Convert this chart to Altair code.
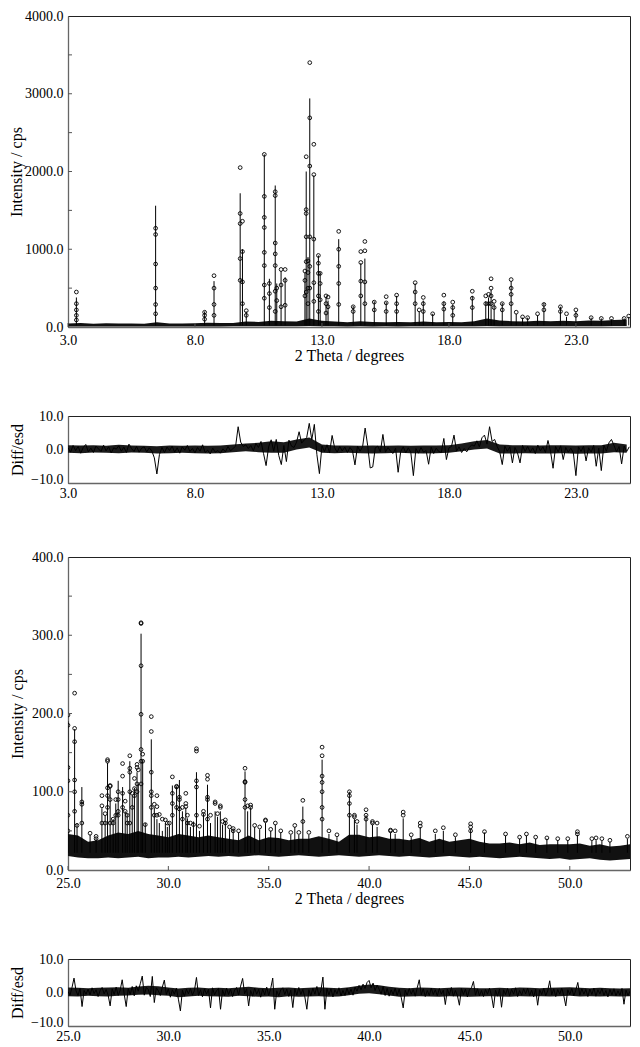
import altair as alt
import pandas as pd

FONT = "Liberation Serif"

# ---------------- Panel 1: 3 - 25 deg ----------------
p1_xdomain = [3.0, 25.13]
p1_xticks = [3.0, 8.0, 13.0, 18.0, 23.0]
p1_yticks = [0, 1000, 2000, 3000, 4000]
p1_yminor = [500, 1000, 1500, 2000, 2500, 3000, 3500]
p1_base = 20

p1_peak_x = [3.33, 6.45, 8.38, 8.75, 9.78, 9.87, 10.02, 10.73, 10.93, 11.16, 11.22,
             11.39, 11.55, 12.33, 12.38, 12.45, 12.52, 12.68, 12.86, 12.93, 13.16,
             13.24, 13.66, 14.23, 14.53, 14.69, 15.06, 15.53, 15.94, 16.67, 16.83,
             16.99, 17.36, 17.80, 18.15, 18.92, 19.45, 19.56, 19.66, 19.78, 20.10,
             20.45, 20.65, 20.90, 21.10, 21.49, 21.74, 22.39, 22.63, 23.00, 23.60,
             24.00, 24.40, 24.90, 25.08]
p1_peak_calc = [380, 1560, 200, 590, 1720, 1000, 200, 2220, 620, 1820, 560,
                720, 640, 700, 2000, 900, 2940, 1950, 920, 700, 380,
                340, 1130, 270, 820, 880, 330, 320, 400, 560, 200,
                340, 170, 330, 290, 400, 330, 380, 480, 300, 310,
                590, 170, 120, 120, 150, 310, 260, 130, 200, 120,
                110, 100, 110, 130]
p1_peak_obs = [[450, 300, 220, 150, 90], [1270, 1190, 810, 500, 290, 170],
               [190, 150, 100], [660, 500, 290, 150], [2050, 1460, 1330, 880, 600],
               [1360, 970, 580, 300], [210, 150],
               [2220, 1680, 1410, 1280, 960, 790, 540, 370], [560, 430, 250],
               [1740, 1690, 1080, 940, 790, 460, 200], [500, 340], [740, 540, 260],
               [740, 600, 280], [720, 600, 400], [2190, 1510, 1460, 1160, 840, 450],
               [850, 700, 500, 300], [3400, 2690, 2070, 1160, 780, 500],
               [2350, 1960, 1130, 570, 330], [920, 820, 690, 400, 200], [690, 560, 350],
               [400, 300, 180], [385, 260], [1230, 1000, 780, 560, 290], [260, 200],
               [970, 830, 590, 400], [1100, 980, 580, 300], [320, 220], [390, 310, 200],
               [410, 300, 200], [570, 450, 300], [220], [380, 300, 200], [170],
               [410, 300, 230], [320, 250, 150], [460, 370, 250], [400, 300], [420, 300],
               [620, 500, 400, 300], [330, 250], [300, 220], [610, 500, 420, 300],
               [190], [130], [120], [170], [290, 220], [260, 200], [170], [220, 150],
               [120], [110], [110], [110], [140]]
p1_band_x0, p1_band_step = 3.0, 0.5
p1_band_hi = [45, 50, 42, 48, 44, 46, 42, 60, 45, 44, 48, 55, 50, 52, 70, 65, 80, 75,
              70, 110, 80, 70, 60, 75, 65, 60, 65, 60, 70, 60, 65, 60, 75, 110, 85, 75,
              70, 80, 75, 80, 75, 85, 80, 90, 95]
p1_band_lo = [8, 6, 8, 7, 6, 8, 7, 8, 6, 7, 8, 7, 8, 9, 10, 9, 10, 10,
              10, 12, 10, 9, 8, 9, 8, 9, 8, 9, 10, 9, 10, 9, 10, 12, 11, 10,
              10, 11, 10, 11, 10, 11, 10, 12, 12]

# ---------------- Panel 2: difference 3 - 25 deg (step 0.1) ----------------
p2_x0, p2_step = 3.0, 0.1
p2_diff = [
    0.5, -0.8, 1.2, -0.3, 0.9, -1.1, 0.6, 1.5, -0.7, 0.4,
    -0.9, 1.0, 0.2, -0.6, 1.3, -0.4, 0.8, -1.0, 0.5, 0.1,
    1.1, -0.5, 0.7, -0.9, 1.6, 0.3, -0.6, 0.9, -0.8, 0.4,
    0.8, -0.7, 0.5, -0.4, -2.5, -7.3, -1.5, 0.6, -0.9, 0.7,
    -0.3, 1.0, -0.8, 0.5, -1.1, 0.8, -0.2, 1.2, -0.6, 0.3,
    -1.0, 0.6, -0.5, 1.4, -0.9, -0.2, -1.3, 0.4, -0.8, -0.3,
    -1.1, 0.2, -0.7, 0.9, -0.4, 0.3, 1.0, 6.8, 2.2, 0.9,
    1.4, 0.3, 1.2, -0.4, 1.8, 0.6, 2.4, -1.2, -4.8, 0.8,
    2.9, -0.5, 3.0, -1.8, -4.5, 1.2, -3.6, 2.8, 1.0, 0.6,
    2.2, 5.3, 1.9, 2.8, 3.6, 7.8, 2.9, 7.5, -1.5, -7.2,
    1.1, -0.6, 1.4, -1.0, 4.2, 0.5, -0.8, 0.9, -0.4, 0.7,
    -0.9, 0.6, -0.3, -4.6, 1.0, -0.5, 0.8, 6.4, 1.2, -5.5,
    -5.2, 0.5, 1.0, -0.7, 4.5, -0.8, 0.6, -0.5, -1.2, 0.4,
    -6.8, -0.6, 0.8, -1.0, 0.5, -0.9, -7.8, 0.3, -1.1, 0.6,
    -0.8, -0.3, -4.4, 0.7, -1.2, 0.4, -0.6, -0.9, 3.3, -3.0,
    0.5, 0.9, 4.3, -0.5, 0.8, -0.9, 0.3, -0.7, 0.6, 1.4,
    1.0, 2.6, 0.8, 3.5, 4.3, 1.6, 6.8, 2.4, 3.0, 0.9,
    -0.7, -4.5, 1.0, -0.5, 0.8, -4.0, 0.6, -1.0, -4.0, 1.2,
    -0.6, 0.9, -0.8, 0.5, -1.2, 1.3, -0.4, 0.8, -0.9, 2.7,
    -0.5, -5.6, 0.9, -0.7, 1.1, -3.0, 0.6, -0.8, 0.4, -1.0,
    -7.8, 0.8, -0.6, 1.0, -3.4, 0.5, -0.8, 1.2, -5.0, 0.4,
    -6.3, 1.3, -0.5, 2.0, 3.0, 1.2, -0.7, 0.9, -4.3, 1.0,
    -0.6, 0.8]
# envelope of the dense noise band (step 0.5 from 3.0)
p2_env_x0, p2_env_step = 3.0, 0.5
p2_env_hi = [1.3, 1.2, 1.3, 1.1, 1.4, 1.2, 1.1, 1.0, 1.2, 1.1, 1.2, 1.1, 1.2, 1.5,
             1.8, 2.0, 2.5, 2.2, 3.0, 3.6, 1.5, 1.2, 1.2, 1.1, 1.2, 1.1, 1.2, 1.1,
             1.2, 1.2, 1.3, 1.8, 2.5, 2.8, 1.5, 1.3, 1.3, 1.2, 1.3, 1.3, 1.2, 1.3,
             1.3, 2.0, 1.5]
p2_env_lo = [-1.0, -1.1, -0.9, -1.0, -1.1, -0.9, -1.0, -1.2, -1.1, -1.0, -1.1, -1.2,
             -1.1, -0.8, -0.5, -0.8, -1.0, -1.0, 0.0, 0.6, -1.0, -1.1, -1.0, -1.1,
             -1.2, -1.1, -1.0, -1.1, -1.2, -1.1, -1.0, -0.5, 0.0, 0.3, -1.2, -1.2,
             -1.1, -1.2, -1.2, -1.1, -1.3, -1.2, -1.2, -0.8, -1.0]

# ---------------- Panel 3: 25 - 53 deg ----------------
p3_xdomain = [25.0, 53.0]
p3_xticks = [25.0, 30.0, 35.0, 40.0, 45.0, 50.0]
p3_yticks = [0, 100, 200, 300, 400]
p3_yminor = [50, 100, 150, 200, 250, 300, 350]
p3_base = 22

p3_peak_x = [25.00, 25.33, 25.45, 25.69, 26.40, 26.69, 26.97, 27.10, 27.25, 27.50,
             27.72, 27.85, 28.08, 28.31, 28.44, 28.50, 28.64, 28.72, 28.85, 29.15,
             29.43, 29.55, 29.70, 29.95, 30.20, 30.41, 30.55, 30.70, 30.87, 31.10,
             31.40, 31.55, 31.75, 31.95, 32.10, 32.33, 32.59, 32.84, 33.23, 33.82,
             33.95, 34.10, 34.30, 34.84, 35.33, 35.60, 36.10, 36.30, 36.50, 36.70,
             37.00, 37.66, 38.00, 38.40, 39.02, 39.27, 39.40, 39.85, 40.17, 40.40,
             41.07, 41.30, 41.70, 42.10, 42.55, 43.30, 43.70, 44.30, 45.06, 45.75,
             46.80, 47.50, 47.84, 48.30, 48.86, 49.40, 49.90, 50.38, 51.10, 51.31,
             51.60, 52.00, 52.87, 26.10, 26.85, 27.38, 27.95, 28.20, 29.30, 29.85,
             30.05, 30.95, 31.25, 32.45, 32.70, 33.05, 33.50, 34.55, 35.10]
p3_peak_calc = [190, 180, 60, 106, 40, 79, 137, 105, 65, 114,
                106, 75, 139, 105, 125, 110, 302, 140, 60, 167,
                65, 60, 50, 55, 108, 107, 115, 75, 80, 55,
                125, 50, 72, 109, 60, 75, 75, 62, 52, 126,
                75, 80, 55, 60, 58, 48, 45, 55, 45, 81,
                45, 141, 46, 42, 100, 65, 58, 70, 58, 55,
                48, 46, 66, 42, 55, 46, 50, 42, 52, 48,
                44, 40, 44, 40, 40, 38, 38, 45, 37, 38,
                37, 36, 40, 45, 70, 85, 72, 95, 80, 60,
                58, 66, 62, 68, 58, 52, 48, 52, 50]
p3_peak_obs = [[198, 185, 131, 114, 70, 50], [226, 181, 164, 115, 100, 75], [57],
               [87, 84, 60], [43, 40], [95, 82, 60], [141, 139, 105, 95, 80],
               [108, 107, 90, 60], [65, 60], [100, 90, 75, 70], [136, 120, 98, 80],
               [88, 75], [146, 130, 125, 100, 60], [117, 104, 95], [135, 131, 110, 100],
               [128], [316, 315, 261, 199, 154, 139, 110], [148, 139], [58],
               [196, 177, 125, 100, 95, 80], [95, 81, 70], [71], [65], [60],
               [119, 98, 85, 70], [107, 106, 80], [93, 90, 78], [80, 65], [98, 85, 81],
               [60], [155, 152, 114, 106, 70], [56], [75, 71], [121, 116, 93, 90, 65],
               [70], [87, 85], [82, 80], [64, 60], [53, 50], [130, 113, 112, 90, 80],
               [82], [83, 80], [57], [64, 63], [60], [50], [48], [57], [48], [89, 62],
               [48], [157, 146, 120, 112, 100, 80, 65], [50], [45], [100, 95, 85, 70],
               [70, 68], [62], [77, 70, 65], [62, 60], [60], [51, 50], [50], [74, 70],
               [45], [60, 56], [50], [54], [45], [59, 55, 50], [49], [46], [42], [46],
               [42], [41], [40], [40], [49, 46], [40], [41], [40], [38], [43],
               [47], [72, 60], [90, 70], [70, 60], [98, 80], [84, 70], [64], [60],
               [70, 60], [58], [72], [62], [55], [50], [55], [52]]
p3_band_x0, p3_band_step = 25.0, 0.5
p3_band_hi = [46, 44, 36, 38, 44, 48, 46, 50, 46, 44,
              42, 46, 44, 42, 44, 42, 40, 38, 44, 38,
              42, 41, 38, 40, 40, 43, 40, 36, 45, 45,
              42, 43, 40, 40, 38, 41, 36, 40, 36, 38,
              40, 36, 34, 34, 35, 33, 35, 32, 33, 33,
              33, 34, 31, 33, 30, 31, 33]
p3_band_lo = [18, 16, 15, 15, 16, 15, 16, 17, 15, 16,
              16, 17, 16, 17, 18, 17, 18, 17, 18, 19,
              18, 17, 18, 19, 18, 17, 18, 19, 18, 17,
              18, 19, 18, 17, 18, 17, 16, 17, 18, 17,
              16, 17, 16, 15, 16, 17, 16, 15, 14, 15,
              13, 14, 15, 13, 12, 13, 14]

# ---------------- Panel 4: difference 25 - 53 deg (step 0.1) ----------------
p4_x0, p4_step = 25.0, 0.1
p4_diff = [
    0.3, -0.8, 1.5, 4.3, 0.5, -0.9, 1.2, -4.2, 0.6, -0.5,
    1.0, -0.7, 1.4, -0.3, 0.8, -1.2, 0.6, 1.5, -0.4, 0.9,
    -0.8, -4.0, 1.1, -0.6, 1.6, -0.9, 0.7, 3.8, -0.5, -4.2,
    1.2, -0.6, 1.8, -1.0, 2.0, 0.4, 2.6, 4.9, -0.8, 1.5,
    0.9, -1.2, 4.8, -3.0, 1.4, 0.5, -0.9, 1.6, 3.7, -0.6,
    1.1, -1.4, 0.8, -0.5, 1.3, -2.0, -5.5, 0.7, -1.1, 1.0,
    -0.4, 1.2, -0.8, 0.6, 4.5, -0.9, 0.8, -1.3, 1.1, -0.5,
    0.9, -4.6, 1.4, -0.7, 0.5, 1.2, -5.0, 0.8, -1.0, 1.3,
    -0.6, 1.0, -1.2, 0.7, 1.5, -0.8, 1.9, 4.2, -0.4, 1.1,
    -4.0, 0.6, -1.1, 1.3, -0.5, 0.9, -1.4, 1.0, -0.7, 1.6,
    -0.9, 1.2, 4.3, -5.0, 0.5, -1.0, 0.8, 1.4, -0.6, 1.0,
    -1.2, 0.7, -4.5, 1.1, -0.8, 1.5, -0.6, 0.9, -1.3, -5.0,
    0.8, -1.0, 1.3, -0.5, 1.8, -0.9, 0.6, 4.6, -5.0, 1.2,
    -0.7, 1.1, -1.3, 0.8, -0.4, 1.4, -1.0, 0.6, -0.9, 1.3,
    -0.5, 1.0, -0.8, 1.6, 0.4, 2.1, 0.8, 2.5, 1.2, 3.0,
    3.6, 1.4, 2.8, 0.6, 2.2, 1.0, -0.5, 1.8, -0.9, 1.2,
    -1.1, 0.8, -0.6, 1.3, -0.9, 1.0, -1.4, -4.6, 0.7, -0.8,
    1.2, -0.5, 0.9, -1.1, 1.4, 3.8, -0.7, 1.1, -1.2, 0.6,
    -0.9, 1.3, -0.6, 0.8, -1.0, 1.2, -0.5, 0.7, -3.6, 1.0,
    -0.7, 1.5, -1.1, 0.6, -0.9, -3.8, 1.2, -0.6, 1.0, -1.3,
    0.8, 1.4, 3.3, -0.8, 1.1, -1.0, 0.6, -1.2, 0.9, -0.5,
    1.3, -0.9, -4.6, 0.7, -1.1, 1.0, -4.4, 0.8, -0.6, 1.2,
    -1.0, 0.9, -0.5, 1.4, -1.2, 0.6, -0.8, 1.1, -0.4, 1.3,
    -0.9, 0.7, -1.3, 1.0, -3.8, 0.8, -0.6, 1.2, -1.0, 0.5,
    3.5, -0.7, 1.1, -1.2, 0.9, -0.5, 1.3, -0.9, -4.0, 0.8,
    -0.6, 1.2, -1.0, 0.7, 3.0, -0.8, 1.1, -0.5, 0.9, -1.2,
    1.0, -0.6, 1.3, -1.1, 0.8, -0.4, 1.2, -0.9, 0.6, -1.3,
    0.9, -0.7, 1.1, -1.0, 0.5, -0.8, 1.2, -3.5, 0.7, -0.9,
    0.4]
p4_env_x0, p4_env_step = 25.0, 0.5
p4_env_hi = [1.5, 1.4, 1.3, 1.4, 1.5, 1.6, 1.4, 1.8, 2.0, 1.9, 1.5, 1.2, 1.4, 1.5,
             1.3, 1.4, 1.3, 1.5, 1.7, 1.4, 1.3, 1.4, 1.5, 1.3, 1.4, 1.6, 1.4, 1.3,
             1.6, 2.0, 2.4, 2.2, 1.7, 1.4, 1.3, 1.5, 1.4, 1.3, 1.4, 1.5, 1.4, 1.3,
             1.3, 1.4, 1.3, 1.5, 1.4, 1.3, 1.4, 1.5, 1.6, 1.4, 1.3, 1.4, 1.3, 1.2, 1.3]
p4_env_lo = [-1.1, -1.2, -1.0, -1.1, -1.2, -1.0, -0.9, -0.7, -0.6, -0.8, -1.0, -1.4,
             -1.2, -1.0, -1.1, -1.2, -1.3, -1.0, -1.1, -1.3, -1.2, -1.4, -1.1, -1.3,
             -1.2, -1.1, -1.3, -1.2, -0.8, -0.4, -0.2, -0.5, -0.9, -1.3, -1.2, -1.1,
             -1.2, -1.3, -1.1, -1.2, -1.3, -1.2, -1.1, -1.2, -1.3, -1.1, -1.2, -1.1,
             -1.2, -1.1, -1.0, -1.2, -1.1, -1.2, -1.1, -1.2, -1.1]

diff_yticks = [-10.0, 0.0, 10.0]


# ---------------- build tables ----------------
def grid(x0, step, n):
    return [round(x0 + step * i, 3) for i in range(n)]


def band_df(x0, step, hi, lo):
    return pd.DataFrame({"x": grid(x0, step, len(hi)), "hi": hi, "lo": lo})


def peaks_df(px, pc, base):
    return pd.DataFrame({"x": px, "calc": pc, "base": [base] * len(px)})


def obs_df(px, pobs):
    xs, ys = [], []
    for x, lst in zip(px, pobs):
        for v in lst:
            xs.append(x)
            ys.append(v)
    return pd.DataFrame({"x": xs, "y": ys})


def diff_df(x0, step, d):
    return pd.DataFrame({"x": grid(x0, step, len(d)), "d": d})


W = 562
YLP = 5
TICK_PX = 4


def main_panel(band, peaks, obs, xdom, xticks, ydom, yticks, yminor, h, ytp):
    xs = alt.Scale(domain=xdom, nice=False, zero=False)
    ys = alt.Scale(domain=ydom, nice=False, zero=False)
    xa = alt.Axis(values=xticks, format=".1f", title="2 Theta / degrees",
                  labelPadding=6, titlePadding=0, labelFlush=False, labelOverlap=False)
    ya = alt.Axis(values=yticks, format=".1f", title="Intensity / cps",
                  labelPadding=YLP, titlePadding=ytp, labelOverlap=False)
    X = alt.X("x:Q", scale=xs, axis=xa)
    area = alt.Chart(band).mark_area(color="#111111", clip=True).encode(
        x=X, y=alt.Y("hi:Q", scale=ys, axis=ya), y2="lo:Q")
    rules = alt.Chart(peaks).mark_rule(color="black", strokeWidth=1, clip=True).encode(
        x=X, y=alt.Y("calc:Q", scale=ys, axis=ya), y2="base:Q")
    pts = alt.Chart(obs).mark_point(shape="circle", filled=False, color="black",
                                    size=14, strokeWidth=0.9, opacity=1, clip=True).encode(
        x=X, y=alt.Y("y:Q", scale=ys, axis=ya))
    # short inward tick marks along the bottom and left frame
    ylen = (ydom[1] - ydom[0]) * TICK_PX / h
    xlen = (xdom[1] - xdom[0]) * TICK_PX / W
    xt = pd.DataFrame({"x": xticks, "y0": [ydom[0]] * len(xticks),
                       "y1": [ydom[0] + ylen] * len(xticks)})
    yt = pd.DataFrame({"y": yminor, "x0": [xdom[0]] * len(yminor),
                       "x1": [xdom[0] + xlen] * len(yminor)})
    xtick = alt.Chart(xt).mark_rule(color="#555555", strokeWidth=1).encode(
        x=X, y=alt.Y("y0:Q", scale=ys, axis=ya), y2="y1:Q")
    ytick = alt.Chart(yt).mark_rule(color="#555555", strokeWidth=1).encode(
        y=alt.Y("y:Q", scale=ys, axis=ya), x=alt.X("x0:Q", scale=xs, axis=xa), x2="x1:Q")
    return alt.layer(area, rules, pts, xtick, ytick).properties(width=W, height=h)


def diff_panel(df, env, xdom, xticks, h, ytp, spacer):
    xs = alt.Scale(domain=xdom, nice=False, zero=False)
    ys = alt.Scale(domain=[-10, 10], nice=False, zero=False)
    if spacer:
        xa = alt.Axis(values=xticks, format=".1f", title=" ", titleFontSize=4,
                      titlePadding=0, labelPadding=3, labelFlush=False, labelOverlap=False)
    else:
        xa = alt.Axis(values=xticks, format=".1f", title=None,
                      labelPadding=3, labelFlush=False, labelOverlap=False)
    low_cond = {"condition": {"test": "datum.value <= -10", "value": "alphabetic"},
                "value": "middle"}
    ya = alt.Axis(values=diff_yticks, format=".1f", title="Diff/esd", labelPadding=YLP,
                  titlePadding=ytp, labelOverlap=False, labelBaseline=low_cond)
    X = alt.X("x:Q", scale=xs, axis=xa)
    band = alt.Chart(env).mark_area(color="#1a1a1a", clip=True).encode(
        x=X, y=alt.Y("hi:Q", scale=ys, axis=ya), y2="lo:Q")
    line = alt.Chart(df).mark_line(color="black", strokeWidth=1, clip=True).encode(
        x=X, y=alt.Y("d:Q", scale=ys, axis=ya))
    return alt.layer(band, line).properties(width=W, height=h)


p1 = main_panel(band_df(p1_band_x0, p1_band_step, p1_band_hi, p1_band_lo),
                peaks_df(p1_peak_x, p1_peak_calc, p1_base),
                obs_df(p1_peak_x, p1_peak_obs),
                p1_xdomain, p1_xticks, [0, 4000], p1_yticks, p1_yminor, 311, 0)
p2 = diff_panel(diff_df(p2_x0, p2_step, p2_diff),
                band_df(p2_env_x0, p2_env_step, p2_env_hi, p2_env_lo),
                p1_xdomain, p1_xticks, 67, 5, True)
p3 = main_panel(band_df(p3_band_x0, p3_band_step, p3_band_hi, p3_band_lo),
                peaks_df(p3_peak_x, p3_peak_calc, p3_base),
                obs_df(p3_peak_x, p3_peak_obs),
                p3_xdomain, p3_xticks, [0, 400], p3_yticks, p3_yminor, 313, 6)
p4 = diff_panel(diff_df(p4_x0, p4_step, p4_diff),
                band_df(p4_env_x0, p4_env_step, p4_env_hi, p4_env_lo),
                p3_xdomain, p3_xticks, 67, 5, False)

chart = alt.vconcat(p1, p2, p3, p4, spacing=44).properties(
    padding={"left": 0, "top": 0, "right": 0, "bottom": 0}
).configure_view(stroke="#222222", strokeWidth=1).configure_axis(
    labelFont=FONT, titleFont=FONT, labelFontSize=14, titleFontSize=16,
    titleFontWeight="normal", labelColor="black", titleColor="black",
    ticks=False, tickSize=0, domainColor="#666666", domainWidth=1.3, grid=False)

chart.save("out.html", embed_options={"renderer": "svg", "actions": False})
